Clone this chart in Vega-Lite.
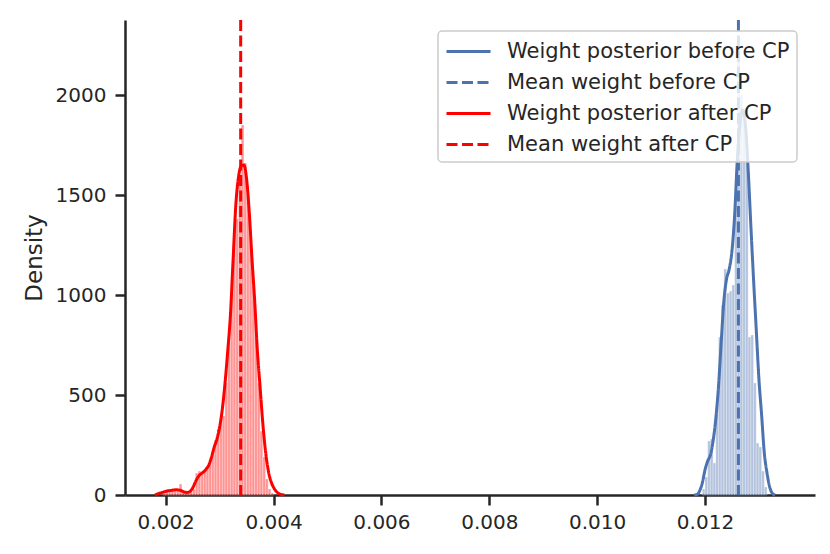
{
  "$schema": "https://vega.github.io/schema/vega-lite/v6.json",
  "description": "Weight posterior before and after change point: histograms, KDE curves and mean lines.",
  "width": 690,
  "height": 475,
  "autosize": {"type": "none"},
  "padding": {"left": 125, "top": 20, "right": 15, "bottom": 59},
  "datasets": {
    "hist": [
      {"series": "after", "bin_start": 0.00195, "bin_end": 0.00200, "density": 10},
      {"series": "after", "bin_start": 0.00200, "bin_end": 0.00205, "density": 20},
      {"series": "after", "bin_start": 0.00205, "bin_end": 0.00210, "density": 25},
      {"series": "after", "bin_start": 0.00210, "bin_end": 0.00215, "density": 25},
      {"series": "after", "bin_start": 0.00215, "bin_end": 0.00220, "density": 20},
      {"series": "after", "bin_start": 0.00220, "bin_end": 0.00225, "density": 25},
      {"series": "after", "bin_start": 0.00225, "bin_end": 0.00230, "density": 55},
      {"series": "after", "bin_start": 0.00230, "bin_end": 0.00235, "density": 25},
      {"series": "after", "bin_start": 0.00235, "bin_end": 0.00240, "density": 15},
      {"series": "after", "bin_start": 0.00240, "bin_end": 0.00245, "density": 10},
      {"series": "after", "bin_start": 0.00245, "bin_end": 0.00250, "density": 15},
      {"series": "after", "bin_start": 0.00250, "bin_end": 0.00255, "density": 30},
      {"series": "after", "bin_start": 0.00255, "bin_end": 0.00260, "density": 110},
      {"series": "after", "bin_start": 0.00260, "bin_end": 0.00265, "density": 120},
      {"series": "after", "bin_start": 0.00265, "bin_end": 0.00270, "density": 115},
      {"series": "after", "bin_start": 0.00270, "bin_end": 0.00275, "density": 125},
      {"series": "after", "bin_start": 0.00275, "bin_end": 0.00280, "density": 140},
      {"series": "after", "bin_start": 0.00280, "bin_end": 0.00285, "density": 165},
      {"series": "after", "bin_start": 0.00285, "bin_end": 0.00290, "density": 200},
      {"series": "after", "bin_start": 0.00290, "bin_end": 0.00295, "density": 275},
      {"series": "after", "bin_start": 0.00295, "bin_end": 0.00300, "density": 330},
      {"series": "after", "bin_start": 0.00300, "bin_end": 0.00305, "density": 390},
      {"series": "after", "bin_start": 0.00305, "bin_end": 0.00310, "density": 395},
      {"series": "after", "bin_start": 0.00310, "bin_end": 0.00315, "density": 560},
      {"series": "after", "bin_start": 0.00315, "bin_end": 0.00320, "density": 760},
      {"series": "after", "bin_start": 0.00320, "bin_end": 0.00325, "density": 1000},
      {"series": "after", "bin_start": 0.00325, "bin_end": 0.00330, "density": 1330},
      {"series": "after", "bin_start": 0.00330, "bin_end": 0.00335, "density": 1380},
      {"series": "after", "bin_start": 0.00335, "bin_end": 0.00340, "density": 1600},
      {"series": "after", "bin_start": 0.00340, "bin_end": 0.00345, "density": 1850},
      {"series": "after", "bin_start": 0.00345, "bin_end": 0.00350, "density": 1660},
      {"series": "after", "bin_start": 0.00350, "bin_end": 0.00355, "density": 1500},
      {"series": "after", "bin_start": 0.00355, "bin_end": 0.00360, "density": 1280},
      {"series": "after", "bin_start": 0.00360, "bin_end": 0.00365, "density": 1050},
      {"series": "after", "bin_start": 0.00365, "bin_end": 0.00370, "density": 800},
      {"series": "after", "bin_start": 0.00370, "bin_end": 0.00375, "density": 560},
      {"series": "after", "bin_start": 0.00375, "bin_end": 0.00380, "density": 320},
      {"series": "after", "bin_start": 0.00380, "bin_end": 0.00385, "density": 190},
      {"series": "after", "bin_start": 0.00385, "bin_end": 0.00390, "density": 80},
      {"series": "after", "bin_start": 0.00390, "bin_end": 0.00395, "density": 30},
      {"series": "after", "bin_start": 0.00395, "bin_end": 0.00400, "density": 10},
      {"series": "before", "bin_start": 0.01195, "bin_end": 0.01200, "density": 30},
      {"series": "before", "bin_start": 0.01200, "bin_end": 0.01205, "density": 90},
      {"series": "before", "bin_start": 0.01205, "bin_end": 0.01210, "density": 270},
      {"series": "before", "bin_start": 0.01210, "bin_end": 0.01215, "density": 280},
      {"series": "before", "bin_start": 0.01215, "bin_end": 0.01220, "density": 160},
      {"series": "before", "bin_start": 0.01220, "bin_end": 0.01225, "density": 450},
      {"series": "before", "bin_start": 0.01225, "bin_end": 0.01230, "density": 790},
      {"series": "before", "bin_start": 0.01230, "bin_end": 0.01235, "density": 950},
      {"series": "before", "bin_start": 0.01235, "bin_end": 0.01240, "density": 1130},
      {"series": "before", "bin_start": 0.01240, "bin_end": 0.01245, "density": 1010},
      {"series": "before", "bin_start": 0.01245, "bin_end": 0.01250, "density": 1020},
      {"series": "before", "bin_start": 0.01250, "bin_end": 0.01255, "density": 1050},
      {"series": "before", "bin_start": 0.01255, "bin_end": 0.01260, "density": 1500},
      {"series": "before", "bin_start": 0.01260, "bin_end": 0.01265, "density": 2250},
      {"series": "before", "bin_start": 0.01265, "bin_end": 0.01270, "density": 2000},
      {"series": "before", "bin_start": 0.01270, "bin_end": 0.01275, "density": 1900},
      {"series": "before", "bin_start": 0.01275, "bin_end": 0.01280, "density": 1800},
      {"series": "before", "bin_start": 0.01280, "bin_end": 0.01285, "density": 790},
      {"series": "before", "bin_start": 0.01285, "bin_end": 0.01290, "density": 800},
      {"series": "before", "bin_start": 0.01290, "bin_end": 0.01295, "density": 560},
      {"series": "before", "bin_start": 0.01295, "bin_end": 0.01300, "density": 260},
      {"series": "before", "bin_start": 0.01300, "bin_end": 0.01305, "density": 240},
      {"series": "before", "bin_start": 0.01305, "bin_end": 0.01310, "density": 120},
      {"series": "before", "bin_start": 0.01310, "bin_end": 0.01315, "density": 40}
    ],
    "kde": [
      {"label": "Weight posterior before CP", "weight": 0.01180, "density": 0},
      {"label": "Weight posterior before CP", "weight": 0.01185, "density": 2},
      {"label": "Weight posterior before CP", "weight": 0.01190, "density": 20},
      {"label": "Weight posterior before CP", "weight": 0.01195, "density": 60},
      {"label": "Weight posterior before CP", "weight": 0.01200, "density": 125},
      {"label": "Weight posterior before CP", "weight": 0.01205, "density": 170},
      {"label": "Weight posterior before CP", "weight": 0.01210, "density": 200},
      {"label": "Weight posterior before CP", "weight": 0.01215, "density": 270},
      {"label": "Weight posterior before CP", "weight": 0.01220, "density": 380},
      {"label": "Weight posterior before CP", "weight": 0.01225, "density": 540},
      {"label": "Weight posterior before CP", "weight": 0.01230, "density": 760},
      {"label": "Weight posterior before CP", "weight": 0.01235, "density": 970},
      {"label": "Weight posterior before CP", "weight": 0.01240, "density": 1080},
      {"label": "Weight posterior before CP", "weight": 0.01245, "density": 1130},
      {"label": "Weight posterior before CP", "weight": 0.01250, "density": 1220},
      {"label": "Weight posterior before CP", "weight": 0.01255, "density": 1400},
      {"label": "Weight posterior before CP", "weight": 0.01260, "density": 1680},
      {"label": "Weight posterior before CP", "weight": 0.01265, "density": 1860},
      {"label": "Weight posterior before CP", "weight": 0.01270, "density": 1925},
      {"label": "Weight posterior before CP", "weight": 0.01275, "density": 1850},
      {"label": "Weight posterior before CP", "weight": 0.01280, "density": 1630},
      {"label": "Weight posterior before CP", "weight": 0.01285, "density": 1350},
      {"label": "Weight posterior before CP", "weight": 0.01290, "density": 1080},
      {"label": "Weight posterior before CP", "weight": 0.01295, "density": 830},
      {"label": "Weight posterior before CP", "weight": 0.01300, "density": 580},
      {"label": "Weight posterior before CP", "weight": 0.01305, "density": 400},
      {"label": "Weight posterior before CP", "weight": 0.01310, "density": 210},
      {"label": "Weight posterior before CP", "weight": 0.01315, "density": 110},
      {"label": "Weight posterior before CP", "weight": 0.01320, "density": 40},
      {"label": "Weight posterior before CP", "weight": 0.01325, "density": 8},
      {"label": "Weight posterior before CP", "weight": 0.01330, "density": 0},
      {"label": "Weight posterior after CP", "weight": 0.00180, "density": 0},
      {"label": "Weight posterior after CP", "weight": 0.00185, "density": 5},
      {"label": "Weight posterior after CP", "weight": 0.00190, "density": 10},
      {"label": "Weight posterior after CP", "weight": 0.00195, "density": 14},
      {"label": "Weight posterior after CP", "weight": 0.00200, "density": 18},
      {"label": "Weight posterior after CP", "weight": 0.00205, "density": 21},
      {"label": "Weight posterior after CP", "weight": 0.00210, "density": 23},
      {"label": "Weight posterior after CP", "weight": 0.00215, "density": 25},
      {"label": "Weight posterior after CP", "weight": 0.00220, "density": 26},
      {"label": "Weight posterior after CP", "weight": 0.00225, "density": 25},
      {"label": "Weight posterior after CP", "weight": 0.00230, "density": 20},
      {"label": "Weight posterior after CP", "weight": 0.00235, "density": 14},
      {"label": "Weight posterior after CP", "weight": 0.00240, "density": 13},
      {"label": "Weight posterior after CP", "weight": 0.00245, "density": 18},
      {"label": "Weight posterior after CP", "weight": 0.00250, "density": 35},
      {"label": "Weight posterior after CP", "weight": 0.00255, "density": 65},
      {"label": "Weight posterior after CP", "weight": 0.00260, "density": 90},
      {"label": "Weight posterior after CP", "weight": 0.00265, "density": 105},
      {"label": "Weight posterior after CP", "weight": 0.00270, "density": 115},
      {"label": "Weight posterior after CP", "weight": 0.00275, "density": 130},
      {"label": "Weight posterior after CP", "weight": 0.00280, "density": 150},
      {"label": "Weight posterior after CP", "weight": 0.00285, "density": 190},
      {"label": "Weight posterior after CP", "weight": 0.00290, "density": 240},
      {"label": "Weight posterior after CP", "weight": 0.00295, "density": 280},
      {"label": "Weight posterior after CP", "weight": 0.00300, "density": 340},
      {"label": "Weight posterior after CP", "weight": 0.00305, "density": 430},
      {"label": "Weight posterior after CP", "weight": 0.00310, "density": 560},
      {"label": "Weight posterior after CP", "weight": 0.00315, "density": 720},
      {"label": "Weight posterior after CP", "weight": 0.00320, "density": 900},
      {"label": "Weight posterior after CP", "weight": 0.00325, "density": 1180},
      {"label": "Weight posterior after CP", "weight": 0.00330, "density": 1450},
      {"label": "Weight posterior after CP", "weight": 0.00335, "density": 1590},
      {"label": "Weight posterior after CP", "weight": 0.00340, "density": 1645},
      {"label": "Weight posterior after CP", "weight": 0.00345, "density": 1650},
      {"label": "Weight posterior after CP", "weight": 0.00350, "density": 1580},
      {"label": "Weight posterior after CP", "weight": 0.00355, "density": 1410},
      {"label": "Weight posterior after CP", "weight": 0.00360, "density": 1180},
      {"label": "Weight posterior after CP", "weight": 0.00365, "density": 970},
      {"label": "Weight posterior after CP", "weight": 0.00370, "density": 720},
      {"label": "Weight posterior after CP", "weight": 0.00375, "density": 540},
      {"label": "Weight posterior after CP", "weight": 0.00380, "density": 360},
      {"label": "Weight posterior after CP", "weight": 0.00385, "density": 220},
      {"label": "Weight posterior after CP", "weight": 0.00390, "density": 125},
      {"label": "Weight posterior after CP", "weight": 0.00395, "density": 70},
      {"label": "Weight posterior after CP", "weight": 0.00400, "density": 38},
      {"label": "Weight posterior after CP", "weight": 0.00405, "density": 18},
      {"label": "Weight posterior after CP", "weight": 0.00410, "density": 7},
      {"label": "Weight posterior after CP", "weight": 0.00415, "density": 2},
      {"label": "Weight posterior after CP", "weight": 0.00420, "density": 0}
    ],
    "means": [
      {"label": "Mean weight before CP", "weight": 0.01262},
      {"label": "Mean weight after CP", "weight": 0.00339}
    ]
  },
  "layer": [
    {
      "data": {"name": "hist"},
      "transform": [{"filter": "datum.series == 'before'"}],
      "mark": {"type": "rect", "fill": "#4C72B0", "fillOpacity": 0.42, "stroke": "white", "strokeWidth": 0.3},
      "encoding": {
        "x": {"field": "bin_start", "type": "quantitative"},
        "x2": {"field": "bin_end"},
        "y": {"field": "density", "type": "quantitative"},
        "y2": {"datum": 0}
      }
    },
    {
      "data": {"name": "hist"},
      "transform": [{"filter": "datum.series == 'after'"}],
      "mark": {"type": "rect", "fill": "#FF0000", "fillOpacity": 0.42, "stroke": "white", "strokeWidth": 0.3},
      "encoding": {
        "x": {"field": "bin_start", "type": "quantitative"},
        "x2": {"field": "bin_end"},
        "y": {"field": "density", "type": "quantitative"},
        "y2": {"datum": 0}
      }
    },
    {
      "data": {"name": "kde"},
      "mark": {"type": "line", "strokeWidth": 3, "interpolate": "monotone"},
      "encoding": {
        "x": {"field": "weight", "type": "quantitative"},
        "y": {"field": "density", "type": "quantitative"},
        "color": {"field": "label", "type": "nominal", "title": null},
        "strokeDash": {"field": "label", "type": "nominal", "title": null}
      }
    },
    {
      "data": {"name": "means"},
      "mark": {"type": "rule", "strokeWidth": 3},
      "encoding": {
        "x": {"field": "weight", "type": "quantitative"},
        "color": {"field": "label", "type": "nominal", "title": null},
        "strokeDash": {"field": "label", "type": "nominal", "title": null}
      }
    }
  ],
  "encoding": {
    "x": {
      "type": "quantitative",
      "title": null,
      "scale": {"domain": [0.001245, 0.01404], "nice": false, "zero": false},
      "axis": {"values": [0.002, 0.004, 0.006, 0.008, 0.010, 0.012], "format": ".3f", "labelPadding": 7}
    },
    "y": {
      "type": "quantitative",
      "title": "Density",
      "scale": {"domain": [0, 2375], "nice": false},
      "axis": {"values": [0, 500, 1000, 1500, 2000], "format": "d", "labelPadding": 9, "titlePadding": 9}
    },
    "color": {
      "scale": {
        "domain": ["Weight posterior before CP", "Mean weight before CP", "Weight posterior after CP", "Mean weight after CP"],
        "range": ["#4C72B0", "#4C72B0", "#FF0000", "#FF0000"]
      }
    },
    "strokeDash": {
      "scale": {
        "domain": ["Weight posterior before CP", "Mean weight before CP", "Weight posterior after CP", "Mean weight after CP"],
        "range": [[1, 0], [11, 4.5], [1, 0], [11, 4.5]]
      }
    }
  },
  "config": {
    "view": {"stroke": null},
    "font": "DejaVu Sans",
    "axis": {
      "grid": false,
      "domainColor": "#262626",
      "domainWidth": 2.5,
      "tickColor": "#262626",
      "tickWidth": 2.5,
      "tickSize": 10,
      "labelColor": "#262626",
      "labelFont": "DejaVu Sans",
      "labelFontSize": 20,
      "titleColor": "#262626",
      "titleFont": "DejaVu Sans",
      "titleFontSize": 23,
      "titleFontWeight": "normal"
    },
    "legend": {
      "orient": "none",
      "legendX": 313,
      "legendY": 11,
      "zindex": 1,
      "fillColor": "rgba(255,255,255,0.8)",
      "strokeColor": "#cccccc",
      "strokeWidth": 1.5,
      "cornerRadius": 4,
      "padding": 7,
      "symbolType": "M-1,0H2.67",
      "symbolSize": 576,
      "symbolStrokeWidth": 3,
      "symbolOffset": 0,
      "labelOffset": 35,
      "labelFont": "DejaVu Sans",
      "labelFontSize": 21,
      "labelColor": "#262626",
      "labelLimit": 400,
      "rowPadding": 7
    }
  }
}
